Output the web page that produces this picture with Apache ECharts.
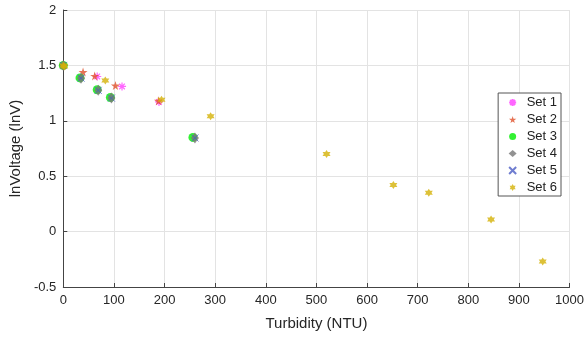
<!DOCTYPE html>
<html><head><meta charset="utf-8">
<script src="https://cdn.jsdelivr.net/npm/echarts@6/dist/echarts.min.js"></script>
<style>html,body{margin:0;padding:0;background:#fff}#c{width:587px;height:337px}</style>
</head><body><div id="c"></div>
<script>
const setNames = ['Set 1','Set 2','Set 3','Set 4','Set 5','Set 6'];
const set1 = [[0,1.5],[67,1.40],[116,1.31],[189,1.17]];
const set2 = [[0,1.5],[39,1.44],[62,1.405],[103,1.318],[188,1.18]];
const set3 = [[0,1.5],[33,1.387],[67,1.28],[93,1.21],[256,0.85]];
const set4 = [[0,1.5],[35,1.385],[69,1.275],[95,1.205],[260,0.845]];
const set5 = [[0,1.5],[35,1.385],[69,1.275],[95,1.205],[260,0.845]];
const set6 = [[0,1.5],[2,1.49],[83,1.363],[194,1.19],[291,1.04],[520,0.70],[652,0.42],[722,0.35],[845,0.11],[947,-0.27]];
const xTicks = [0,100,200,300,400,500,600,700,800,900,1000];
const yTicks = [-0.5,0,0.5,1,1.5,2];

const ASTER = 'path://M5,0L5,10M0,5L10,5M1.5,1.5L8.5,8.5M8.5,1.5L1.5,8.5';
const STAR5 = 'path://M50,0L61,35L98,35L68,57L79,91L50,70L21,91L32,57L2,35L39,35Z';
const HEX = 'path://M50,0L64,25L93,25L79,50L93,75L64,75L50,100L36,75L7,75L21,50L7,25L36,25Z';
const XS = 'path://M0,0L10,10M10,0L0,10';

const styles = [
  {symbol:ASTER,size:8,item:{color:'rgba(0,0,0,0)',borderColor:'#ff40ff',borderWidth:1.2}},
  {symbol:STAR5,size:9,item:{color:'#e0502a'}},
  {symbol:'circle',size:9,item:{color:'#00ee00'}},
  {symbol:'diamond',size:[8,11],item:{color:'#777777'}},
  {symbol:XS,size:7,item:{color:'rgba(0,0,0,0)',borderColor:'#4b5cc4',borderWidth:1}},
  {symbol:HEX,size:8,item:{color:'#d4b106'}}
];
const data = [set1,set2,set3,set4,set5,set6];
const font = 'Liberation Sans, Arial, sans-serif';
const fmt = v => String(v);

const chart = echarts.init(document.getElementById('c'));
chart.setOption({
  animation:false,
  grid:{left:60,right:16,top:10,bottom:50},
  xAxis:{type:'value',min:0,max:1000,interval:100,
    name:'Turbidity (NTU)',nameLocation:'middle',nameGap:29,
    nameTextStyle:{fontFamily:font,fontSize:15,color:'#262626'},
    axisLine:{show:true,onZero:false,lineStyle:{color:'#444'}},
    axisTick:{show:true,inside:true,length:4,lineStyle:{color:'#444'}},
    axisLabel:{fontFamily:font,fontSize:13,color:'#262626',margin:7,formatter:fmt},
    splitLine:{show:true,lineStyle:{color:'#e3e3e3'}}},
  yAxis:{type:'value',min:-0.5,max:2,interval:0.5,
    name:'lnVoltage (lnV)',nameLocation:'middle',nameGap:36,
    nameTextStyle:{fontFamily:font,fontSize:15,color:'#262626'},
    axisLine:{show:true,onZero:false,lineStyle:{color:'#444'}},
    axisTick:{show:true,inside:true,length:4,lineStyle:{color:'#444'}},
    axisLabel:{fontFamily:font,fontSize:13,color:'#262626',margin:7,formatter:fmt},
    splitLine:{show:true,lineStyle:{color:'#e3e3e3'}}},
  legend:{orient:'vertical',right:26,top:93,
    backgroundColor:'#fff',borderColor:'#555',borderWidth:1,padding:[3,4,2,10],
    itemGap:4,itemWidth:8,itemHeight:7,
    textStyle:{fontFamily:font,fontSize:13,color:'#222',padding:[0,0,0,5]},
    data:setNames},
  series:data.map((d,i)=>({
    name:setNames[i],type:'scatter',data:d,
    symbol:styles[i].symbol,symbolSize:styles[i].size,
    itemStyle:styles[i].item,
    z:2+i
  }))
});
</script></body></html>
